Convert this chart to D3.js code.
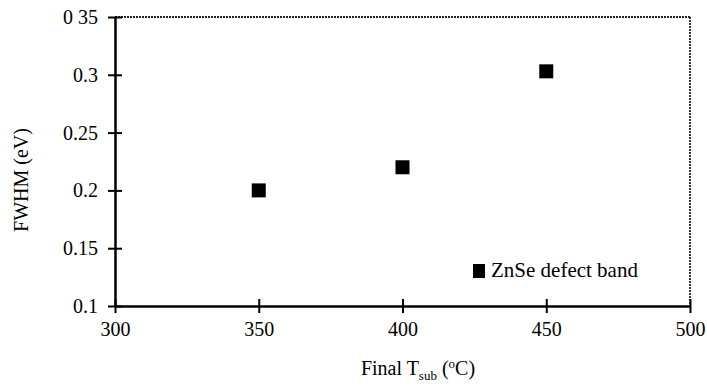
<!DOCTYPE html>
<html>
<head>
  <meta charset="utf-8">
  <script src="https://d3js.org/d3.v7.min.js"></script>
  <style>
    body { margin: 0; background: #fff; }
    text { font-family: "Liberation Serif", "DejaVu Serif", serif; fill: #000; }
  </style>
</head>
<body>
<script>
  // data
  var tempValues = [350, 400, 450];
  var fwhmValues = [0.2, 0.22, 0.303];
  var xTicks = [300, 350, 400, 450, 500];
  var yTicks = [0.1, 0.15, 0.2, 0.25, 0.3, 0.35];
  var yTickLabels = ["0.1", "0.15", "0.2", "0.25", "0.3", "0 35"];
  var seriesName = "ZnSe defect band";

  var W = 707, H = 387;
  var mLeft = 115, mRight = 690, mTop = 17, mBottom = 306;

  var svg = d3.select("body").append("svg")
    .attr("width", W).attr("height", H);

  var x = d3.scaleLinear().domain([300, 500]).range([mLeft, mRight]);
  var y = d3.scaleLinear().domain([0.1, 0.35]).range([mBottom, mTop]);

  // frame: thin top/right lines
  svg.append("line")
    .attr("x1", mLeft).attr("x2", mRight).attr("y1", mTop).attr("y2", mTop)
    .attr("stroke", "#222").attr("stroke-width", 1.8).attr("stroke-dasharray", "2,1");
  svg.append("line")
    .attr("x1", mRight).attr("x2", mRight).attr("y1", mTop).attr("y2", mBottom)
    .attr("stroke", "#222").attr("stroke-width", 1.8).attr("stroke-dasharray", "2,1");

  // x axis
  var xAxis = svg.append("g")
    .attr("transform", "translate(0," + mBottom + ")")
    .call(d3.axisBottom(x).tickValues(xTicks).tickSize(7).tickSizeOuter(0).tickPadding(9));
  xAxis.select(".domain").attr("stroke", "#000").attr("stroke-width", 2.5);
  xAxis.selectAll(".tick line").attr("y1", -7).attr("stroke-width", 2);
  xAxis.selectAll(".tick text").style("font-size", "20px");

  // y axis
  var yAxis = svg.append("g")
    .attr("transform", "translate(" + mLeft + ",0)")
    .call(d3.axisLeft(y).tickValues(yTicks).tickSize(7).tickSizeOuter(0).tickPadding(10)
      .tickFormat(function(d, i) { return yTickLabels[i]; }));
  yAxis.select(".domain").attr("stroke", "#000").attr("stroke-width", 2.5);
  yAxis.selectAll(".tick line").attr("x2", 7).attr("x1", -7).attr("stroke-width", 2);
  yAxis.selectAll(".tick text").style("font-size", "20px");

  // points
  var sz = 14;
  svg.selectAll("rect.pt")
    .data(tempValues)
    .enter().append("rect")
      .attr("class", "pt")
      .attr("x", function(d) { return x(d) - sz / 2; })
      .attr("y", function(d, i) { return y(fwhmValues[i]) - sz / 2; })
      .attr("width", sz).attr("height", sz)
      .attr("fill", "#000");

  // legend
  svg.append("rect")
    .attr("x", 473).attr("y", 264).attr("width", 12).attr("height", 14)
    .attr("fill", "#000");
  svg.append("text")
    .attr("x", 491).attr("y", 277)
    .style("font-size", "21px")
    .text(seriesName);

  // axis titles
  var xt = svg.append("text")
    .attr("x", 418).attr("y", 375)
    .attr("text-anchor", "middle")
    .style("font-size", "20px");
  xt.append("tspan").text("Final T");
  xt.append("tspan").attr("dy", 5).style("font-size", "13px").text("sub");
  xt.append("tspan").attr("dy", -5).text(" (");
  xt.append("tspan").attr("dy", -7).style("font-size", "13px").text("o");
  xt.append("tspan").attr("dy", 7).text("C)");

  svg.append("text")
    .attr("transform", "translate(28,180) rotate(-90)")
    .attr("text-anchor", "middle")
    .style("font-size", "20px")
    .text("FWHM (eV)");
</script>
</body>
</html>
